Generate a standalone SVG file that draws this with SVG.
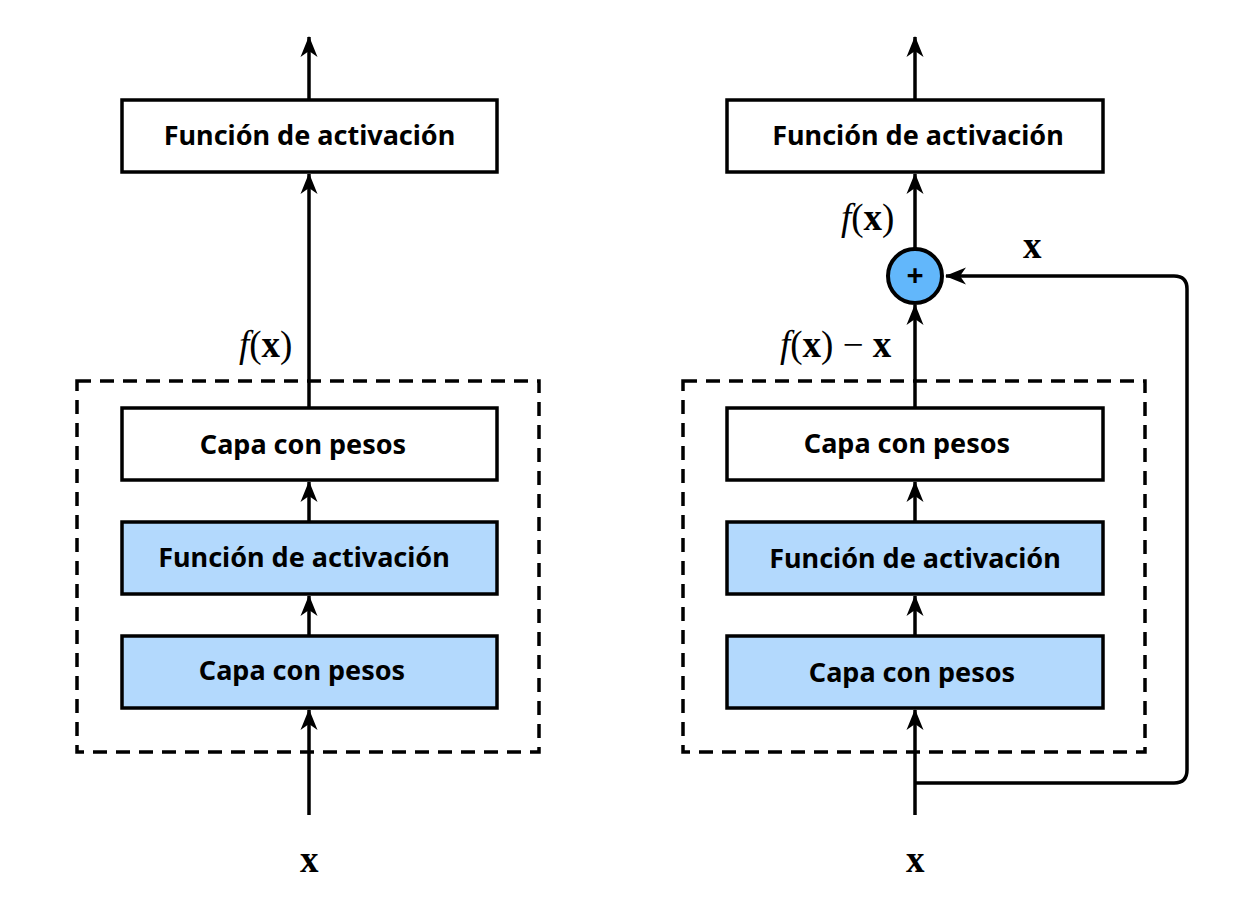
<svg xmlns="http://www.w3.org/2000/svg" width="1251" height="916" viewBox="0 0 1251 916">
<style>
.box{stroke:#000;stroke-width:3.5;}
.white{fill:#fff;}
.blue{fill:#b3d9fd;}
.dash{fill:none;stroke:#000;stroke-width:3.5;stroke-dasharray:14,9;}
.lbl{font-family:"Noto Sans","Open Sans",sans-serif;font-weight:bold;font-size:27px;fill:#000;text-anchor:middle;}
.math{font-family:"Liberation Serif","DejaVu Serif",serif;font-size:37px;fill:#000;}
.conn{fill:none;stroke:#000;stroke-width:3.5;stroke-linejoin:round;}
</style>
<defs>
<marker id="ah" markerUnits="userSpaceOnUse" viewBox="-22 -10 24 20" refX="0" refY="0" markerWidth="24" markerHeight="20" orient="auto">
<path d="M1,0 L-20,-8.5 L-14,0 L-20,8.5 Z" fill="#000"/>
</marker>
</defs>
<rect width="1251" height="916" fill="#fff"/>

<g id="connectors">
<line class="conn" x1="309" y1="100" x2="309" y2="37" marker-end="url(#ah)"/>
<line class="conn" x1="309" y1="408" x2="309" y2="174" marker-end="url(#ah)"/>
<line class="conn" x1="309" y1="522" x2="309" y2="482" marker-end="url(#ah)"/>
<line class="conn" x1="309" y1="636" x2="309" y2="596" marker-end="url(#ah)"/>
<line class="conn" x1="309" y1="815" x2="309" y2="710" marker-end="url(#ah)"/>

<line class="conn" x1="915" y1="100" x2="915" y2="37" marker-end="url(#ah)"/>
<line class="conn" x1="915" y1="249" x2="915" y2="174" marker-end="url(#ah)"/>
<line class="conn" x1="915" y1="408" x2="915" y2="305" marker-end="url(#ah)"/>
<line class="conn" x1="915" y1="522" x2="915" y2="482" marker-end="url(#ah)"/>
<line class="conn" x1="915" y1="636" x2="915" y2="596" marker-end="url(#ah)"/>
<line class="conn" x1="915" y1="815" x2="915" y2="710" marker-end="url(#ah)"/>
<path class="conn" d="M915,783 L1174,783 Q1187,783 1187,770 L1187,289 Q1187,276 1174,276 L946,276" marker-end="url(#ah)"/>
</g>

<g id="left-dashed"><rect class="dash" x="77" y="381" width="462" height="371"/></g>
<g id="right-dashed"><rect class="dash" x="683" y="381" width="462" height="371"/></g>

<g id="left-act-top">
<rect class="box white" x="122" y="100" width="375" height="72"/>
<text class="lbl" x="309.5" y="145">Función de activación</text>
</g>
<g id="left-capa-top">
<rect class="box white" x="122" y="408" width="375" height="72"/>
<text class="lbl" x="303" y="454">Capa con pesos</text>
</g>
<g id="left-act">
<rect class="box blue" x="122" y="522" width="375" height="72"/>
<text class="lbl" x="304" y="567">Función de activación</text>
</g>
<g id="left-capa">
<rect class="box blue" x="122" y="636" width="375" height="72"/>
<text class="lbl" x="302" y="680">Capa con pesos</text>
</g>

<g id="right-act-top">
<rect class="box white" x="727" y="100" width="376" height="72"/>
<text class="lbl" x="918" y="145">Función de activación</text>
</g>
<g id="right-capa-top">
<rect class="box white" x="727" y="408" width="376" height="72"/>
<text class="lbl" x="907" y="453">Capa con pesos</text>
</g>
<g id="right-act">
<rect class="box blue" x="727" y="522" width="376" height="72"/>
<text class="lbl" x="915" y="568">Función de activación</text>
</g>
<g id="right-capa">
<rect class="box blue" x="727" y="636" width="376" height="72"/>
<text class="lbl" x="912" y="682">Capa con pesos</text>
</g>

<g id="plus">
<circle cx="915" cy="276" r="27" fill="#62b7fb" stroke="#000" stroke-width="4"/>
<text x="915" y="286" font-family="Noto Sans,sans-serif" font-weight="bold" font-size="30" text-anchor="middle">+</text>
</g>

<g id="labels">
<text class="math" x="239" y="357"><tspan font-style="italic">f</tspan>(<tspan font-weight="bold">x</tspan>)</text>
<text class="math" x="300" y="872" font-weight="bold">x</text>
<text class="math" x="841" y="230"><tspan font-style="italic">f</tspan>(<tspan font-weight="bold">x</tspan>)</text>
<text class="math" x="1023" y="258" font-weight="bold">x</text>
<text class="math" x="780" y="357"><tspan font-style="italic">f</tspan>(<tspan font-weight="bold">x</tspan>) − <tspan font-weight="bold">x</tspan></text>
<text class="math" x="906" y="872" font-weight="bold">x</text>
</g>
</svg>
